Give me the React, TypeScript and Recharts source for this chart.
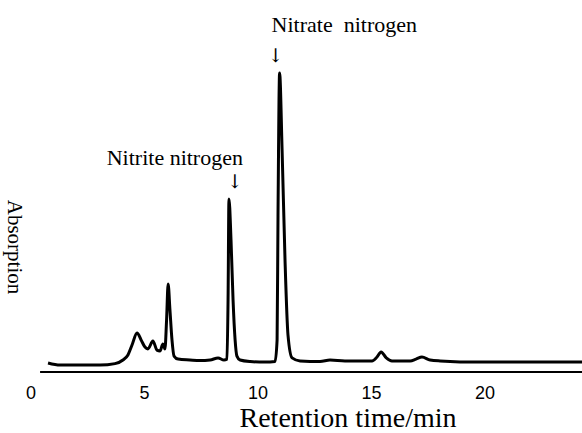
import {
  LineChart,
  Line,
  XAxis,
  YAxis,
  ReferenceLine,
  ReferenceDot,
} from "recharts";

// retention time (min)
const times = [
  0.75, 1.28, 2.16, 3.04, 3.7, 4.05, 4.27, 4.45, 4.67, 4.85, 5.02, 5.15, 5.37,
  5.55, 5.68, 5.81, 5.9, 5.97, 6.04, 6.12, 6.21, 6.3, 6.48, 7.0, 7.44, 7.89,
  8.24, 8.5, 8.63, 8.68, 8.72, 8.81, 8.9, 8.99, 9.07, 9.21, 9.65, 10.31, 10.75,
  10.84, 10.88, 10.95, 11.06, 11.19, 11.32, 11.5, 11.85, 12.73, 13.17, 13.83,
  15.02, 15.24, 15.42, 15.65, 15.9, 16.7, 16.96, 17.22, 17.58, 18.02, 19.78,
  22.42, 24.27,
];

// detector response (arbitrary units)
const signal = [
  3.0, 2.3, 2.3, 2.3, 2.8, 4.0, 5.7, 9.0, 13.0, 10.7, 8.3, 7.7, 10.3, 7.3, 7.0,
  9.3, 7.7, 17.0, 29.3, 20.7, 10.7, 5.3, 4.3, 4.0, 3.8, 4.0, 4.7, 4.0, 4.3, 24.0,
  57.7, 44.0, 24.0, 10.7, 5.3, 4.0, 3.5, 3.3, 3.5, 10.7, 52.0, 99.7, 74.0, 37.0,
  12.3, 4.7, 3.7, 3.5, 4.0, 3.7, 3.7, 5.0, 6.7, 4.7, 3.7, 3.7, 4.3, 5.0, 4.0,
  3.7, 3.3, 3.3, 3.3,
];

const xTicks = [0, 5, 10, 15, 20];

const nitritePeak = { t: 8.72, v: 57.7, name: "Nitrite nitrogen" };
const nitratePeak = { t: 10.95, v: 99.7, name: "Nitrate  nitrogen" };

const data = times.map((t, i) => ({ t, v: signal[i] }));

const serif = "'Liberation Serif', 'Times New Roman', serif";

// arrow + caption above a peak; anchor decides which side the caption sits on
const peakCallout =
  (name: string, anchor: "start" | "end", dx: number, dy: number, ax: number) =>
  (props: any) => {
    const { cx, cy } = props;
    return (
      <g>
        <text
          x={cx + dx}
          y={cy + dy}
          textAnchor={anchor}
          fontFamily={serif}
          fontSize={22}
          fill="#000"
          style={{ whiteSpace: "pre" }}
        >
          {name}
        </text>
        <text
          x={cx + ax}
          y={cy - 11}
          textAnchor="middle"
          fontFamily="'DejaVu Serif', serif"
          fontSize={19}
          fill="#000"
        >
          ↓
        </text>
      </g>
    );
  };

export default function App() {
  return (
    <div style={{ position: "absolute", left: 0, top: 0, background: "#fff" }}>
      <LineChart
        width={582}
        height={433}
        data={data}
        margin={{ top: 72, right: 0, bottom: 0, left: 31 }}
      >
        <XAxis
          dataKey="t"
          type="number"
          domain={[0, 24.27]}
          ticks={xTicks}
          height={61}
          axisLine={false}
          tickLine={false}
          tickSize={0}
          tickMargin={14}
          tick={{
            fill: "#000",
            fontSize: 18,
            fontFamily: "'Liberation Sans', Arial, sans-serif",
          }}
        />
        <YAxis hide width={0} domain={[0, 100]} />
        <ReferenceLine
          segment={[
            { x: 0.4, y: 0 },
            { x: 24.27, y: 0 },
          ]}
          stroke="#000"
          strokeWidth={2}
        />
        <Line
          type="monotone"
          dataKey="v"
          stroke="#000"
          strokeWidth={3}
          dot={false}
          isAnimationActive={false}
        />
        <ReferenceDot
          x={nitritePeak.t}
          y={nitritePeak.v}
          r={0}
          shape={peakCallout(nitritePeak.name, "end", 14, -34, 6)}
        />
        <ReferenceDot
          x={nitratePeak.t}
          y={nitratePeak.v}
          r={0}
          shape={peakCallout(nitratePeak.name, "start", -8, -41, -4)}
        />
        <text
          x={15}
          y={247}
          transform="rotate(90, 15, 247)"
          textAnchor="middle"
          dominantBaseline="central"
          fontFamily={serif}
          fontSize={21}
          fill="#000"
        >
          Absorption
        </text>
        <text
          x={348}
          y={427}
          textAnchor="middle"
          fontFamily={serif}
          fontSize={28}
          fill="#000"
        >
          Retention time/min
        </text>
      </LineChart>
    </div>
  );
}
